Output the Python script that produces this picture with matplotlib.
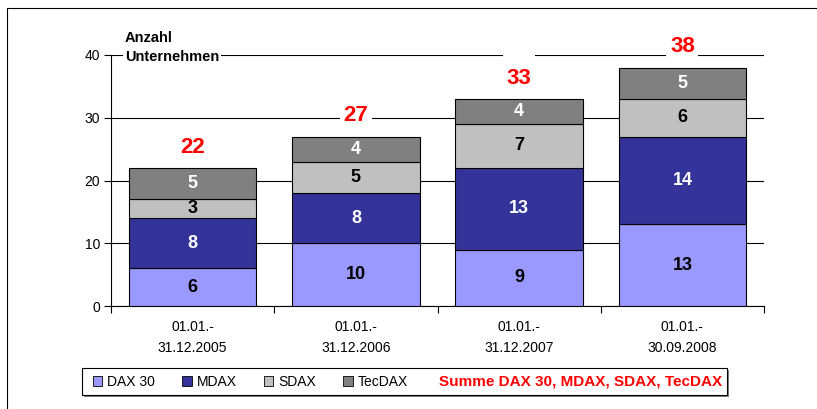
import matplotlib
matplotlib.use("Agg")
import matplotlib.pyplot as plt
from matplotlib.patches import Patch, Rectangle
import numpy as np

plt.rcParams["font.family"] = ["Liberation Sans", "DejaVu Sans"]

# ── Data ──────────────────────────────────────────────────────────────────────
periods = ["01.01.-\n31.12.2005", "01.01.-\n31.12.2006",
           "01.01.-\n31.12.2007", "01.01.-\n30.09.2008"]
dax30  = [6, 10, 9, 13]
mdax   = [8, 8, 13, 14]
sdax   = [3, 5, 7, 6]
tecdax = [5, 4, 4, 5]

series = [("DAX 30", dax30, "#9999FF"),
          ("MDAX",   mdax,  "#333399"),
          ("SDAX",   sdax,  "#C0C0C0"),
          ("TecDAX", tecdax, "#808080")]
label_colors = ["black", "white", "black", "white"]

totals = [a + b + c + d for a, b, c, d in zip(dax30, mdax, sdax, tecdax)]

# ── Figure ────────────────────────────────────────────────────────────────────
W, H = 817, 409
fig = plt.figure(figsize=(W / 100, H / 100), dpi=100)
ax = fig.add_axes([111 / W, 1 - 306 / H, 653 / W, 251 / H])

x = np.arange(len(periods))
bottom = np.zeros(len(periods))
for (name, vals, col), lc in zip(series, label_colors):
    vals = np.array(vals)
    ax.bar(x, vals, width=0.78, bottom=bottom, color=col,
           edgecolor="black", linewidth=0.8, zorder=3, label=name)
    for xi, b, v in zip(x, bottom, vals):
        ax.text(xi, b + v / 2, str(v), ha="center", va="center",
                color=lc, fontsize=13, fontweight="bold", zorder=4)
    bottom += vals

# red totals with white box covering the gridlines
box_extra = [0, 0, 1, 0]   # extra blank line in the box (as in the source)
for xi, t, extra in zip(x, totals, box_extra):
    txt = "\n" * extra + str(t)
    ax.text(xi, t + 1.65, txt, ha="center", va="bottom", color="red",
            fontsize=16, fontweight="bold", zorder=5, linespacing=1.0,
            bbox=dict(facecolor="white", edgecolor="none", pad=2.5))

ax.set_xlim(-0.5, len(periods) - 0.5)
ax.set_ylim(0, 40)
ax.set_yticks([0, 10, 20, 30, 40])
ax.yaxis.grid(True, color="black", linewidth=0.8, zorder=0)
ax.set_axisbelow(True)
for s in ("top", "right"):
    ax.spines[s].set_visible(False)
ax.spines["left"].set_linewidth(0.8)
ax.spines["bottom"].set_linewidth(0.8)
ax.tick_params(axis="y", length=5, width=0.8, labelsize=10, pad=3)

# x ticks at category boundaries, labels in category centres
ax.set_xticks(np.arange(len(periods) + 1) - 0.5)
ax.set_xticklabels([])
ax.tick_params(axis="x", length=5, width=0.8)
for xi, lab in zip(x, periods):
    ax.text(xi, -2.3, lab, ha="center", va="top", fontsize=10,
            linespacing=1.6)

ax.text(0.021, 1.03, "Anzahl\nUnternehmen", transform=ax.transAxes,
        ha="left", va="center", fontsize=10.5, fontweight="bold",
        linespacing=1.5, zorder=6,
        bbox=dict(facecolor="white", edgecolor="none", pad=1.5))

# outer frame
fig.patches.append(Rectangle((7 / W, -0.1), 1.2, 1 - 8 / H + 0.1,
                             transform=fig.transFigure, fill=False,
                             edgecolor="black", linewidth=0.8))

# legend box (with a light shadow)
fig.patches.append(Rectangle((84 / W, 1 - 397 / H), 645 / W, 27 / H,
                             transform=fig.transFigure, fill=True,
                             facecolor="#808080", edgecolor="none"))
fig.patches.append(Rectangle((82 / W, 1 - 395 / H), 645 / W, 27 / H,
                             transform=fig.transFigure, fill=True,
                             facecolor="white", edgecolor="black",
                             linewidth=0.8))
handles = [Patch(facecolor=c, edgecolor="black", linewidth=0.6, label=n)
           for n, _, c in series]
fig.legend(handles=handles, loc="center left",
           bbox_to_anchor=(80 / W, 1 - 382 / H), ncol=4, frameon=False,
           fontsize=10, handlelength=0.7, handleheight=0.7,
           handletextpad=0.35, columnspacing=1.95)
fig.text(439 / W, 1 - 382 / H, "Summe DAX 30, MDAX, SDAX, TecDAX",
         color="red", fontsize=11, fontweight="bold", ha="left", va="center")

fig.savefig("out.png", dpi=100)
